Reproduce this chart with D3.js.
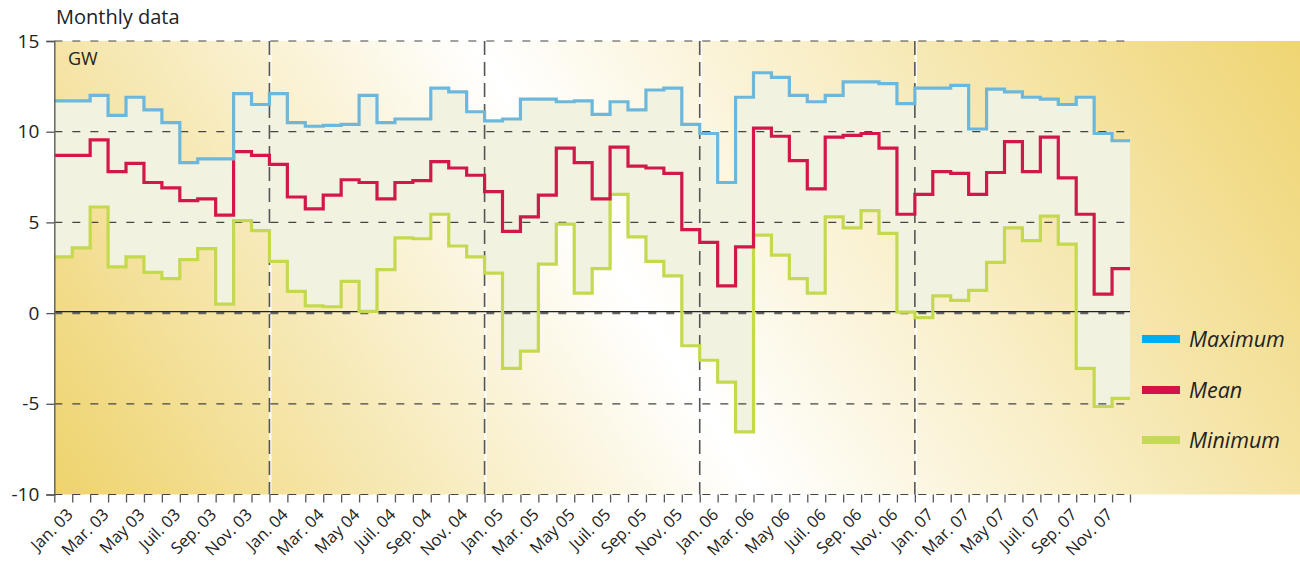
<!DOCTYPE html>
<html><head><meta charset="utf-8">
<script src="https://cdn.jsdelivr.net/npm/d3@7"></script>
<style>
body{margin:0;background:#fff;}
text{font-family:"Open Sans","Noto Sans",sans-serif;fill:#222;}
</style></head>
<body>
<svg id="chart" width="1300" height="565"></svg>
<script>
// ---- data (GW, monthly, Jan 2003 .. Dec 2007) ----
const years = ["03","04","05","06","07"];
const labelMonths = ["Jan.","Mar.","May","Juil.","Sep.","Nov."];
const yTicks = [-10,-5,0,5,10,15];
const seriesNames = ["Maximum","Mean","Minimum"];

const maxValues = [11.7,11.7,12.0,10.9,11.9,11.2,10.5,8.3,8.5,8.5,12.1,11.5,
  12.1,10.5,10.3,10.35,10.4,12.0,10.5,10.7,10.7,12.4,12.2,11.1,
  10.6,10.7,11.8,11.8,11.65,11.7,10.95,11.65,11.2,12.3,12.4,10.4,
  9.9,7.2,11.9,13.25,13.0,12.0,11.65,12.0,12.75,12.75,12.65,11.55,
  12.4,12.4,12.55,10.15,12.35,12.2,11.9,11.8,11.5,11.9,9.9,9.5];
const meanValues = [8.7,8.7,9.55,7.8,8.25,7.2,6.9,6.2,6.3,5.4,8.9,8.7,
  8.2,6.4,5.75,6.5,7.35,7.2,6.3,7.2,7.3,8.35,8.0,7.6,
  6.7,4.5,5.3,6.5,9.1,8.3,6.3,9.15,8.1,8.0,7.7,4.6,
  3.9,1.5,3.65,10.2,9.75,8.4,6.85,9.7,9.8,9.9,9.1,5.45,
  6.55,7.8,7.7,6.55,7.75,9.45,7.8,9.7,7.45,5.45,1.05,2.45];
const minValues = [3.1,3.6,5.85,2.55,3.1,2.25,1.9,2.95,3.55,0.5,5.1,4.55,
  2.85,1.2,0.4,0.35,1.75,0.1,2.4,4.15,4.1,5.45,3.7,3.1,
  2.2,-3.05,-2.1,2.7,4.9,1.1,2.45,6.55,4.2,2.85,2.05,-1.8,
  -2.6,-3.8,-6.55,4.3,3.2,1.9,1.1,5.3,4.7,5.65,4.4,0.05,
  -0.25,0.95,0.7,1.25,2.8,4.7,4.0,5.35,3.8,-3.05,-5.15,-4.7];

const colors = {Maximum:"#6cb8dc", Mean:"#d2174a", Minimum:"#c5d94f"};
const legendColors = {Maximum:"#00aeef", Mean:"#d31347", Minimum:"#c4d957"};

const tickLabels = [];
years.forEach(yy => labelMonths.forEach(m => tickLabels.push(m + " " + yy)));

// ---- layout ----
const svg = d3.select("#chart");
const pLeft = 54.3, pRight = 1130, pTop = 41, pBottom = 494.5;
const nM = maxValues.length;
const x = d3.scaleLinear().domain([0, nM]).range([pLeft, pRight]);
const y = d3.scaleLinear().domain([-10, 15]).range([pBottom, pTop]);

// background gradient
const defs = svg.append("defs");
const grad = defs.append("linearGradient").attr("id","bg")
  .attr("gradientUnits","userSpaceOnUse")
  .attr("x1", 120).attr("y1", 620).attr("x2", 1240).attr("y2", -80);
grad.append("stop").attr("offset","0").attr("stop-color","#eed26a");
grad.append("stop").attr("offset","0.46").attr("stop-color","#ffffff");
grad.append("stop").attr("offset","1").attr("stop-color","#efd470");
svg.append("rect").attr("x", pLeft).attr("y", pTop).attr("width", 1300 - pLeft).attr("height", pBottom - pTop)
  .attr("fill","url(#bg)");

// white lines under year dividers
const yearMarks = [12,24,36,48];
svg.append("g").selectAll("line").data(yearMarks).join("line")
  .attr("x1", d => x(d) + 1).attr("x2", d => x(d) + 1)
  .attr("y1", pTop).attr("y2", pBottom)
  .attr("stroke","#ffffff").attr("stroke-width",2);

// fill between min and max
const idx = d3.range(nM + 1);
const val = (arr, i) => arr[Math.min(i, nM - 1)];
const area = d3.area().curve(d3.curveStepAfter)
  .x(i => x(i)).y0(i => y(val(minValues, i))).y1(i => y(val(maxValues, i)));
svg.append("path").datum(idx).attr("d", area).attr("fill","#f2f2e0");

// horizontal gridlines
svg.append("g").selectAll("line").data(yTicks).join("line")
  .attr("x1", pLeft).attr("x2", pRight)
  .attr("y1", d => y(d)).attr("y2", d => y(d))
  .attr("stroke", d => d === 0 ? "#666" : "#444")
  .attr("stroke-width", d => d === 0 ? 2.2 : 1.2)
  .attr("stroke-dasharray","8,10");
svg.append("line").attr("x1", pLeft).attr("x2", pRight)
  .attr("y1", y(0) - 1.5).attr("y2", y(0) - 1.5)
  .attr("stroke","#222").attr("stroke-width",1.2);

// vertical year dividers
svg.append("g").selectAll("line").data(yearMarks).join("line")
  .attr("x1", d => x(d)).attr("x2", d => x(d))
  .attr("y1", pTop).attr("y2", pBottom)
  .attr("stroke","#555").attr("stroke-width",1.6)
  .attr("stroke-dasharray","14,7");

// series lines
const series = [["Maximum", maxValues],["Mean", meanValues],["Minimum", minValues]];
series.slice().reverse().forEach(([name, arr]) => {
  const line = d3.line().curve(d3.curveStepAfter).x(i => x(i)).y(i => y(val(arr, i)));
  svg.append("path").datum(idx).attr("d", line)
    .attr("fill","none").attr("stroke", colors[name]).attr("stroke-width",3.2);
});

// axes
const yAxis = svg.append("g").attr("transform", `translate(${pLeft},0)`)
  .call(d3.axisLeft(y).tickValues(yTicks).tickSize(8).tickPadding(7).tickFormat(d => String(d)));
yAxis.select(".domain").attr("stroke","#666").attr("stroke-width",1.5);
yAxis.selectAll(".tick line").attr("stroke","#555").attr("stroke-width",1.3);
yAxis.selectAll("text").style("font-size","19px").attr("fill","#222");

const xAxis = svg.append("g").attr("transform", `translate(0,${pBottom})`)
  .call(d3.axisBottom(x).tickValues(d3.range(0, nM + 1)).tickSize(8)
    .tickFormat(i => (i % 2 === 0 && i < nM) ? tickLabels[i / 2] : ""));
xAxis.select(".domain").remove();
xAxis.selectAll(".tick line").attr("stroke","#555").attr("stroke-width",1.3);
xAxis.selectAll("text").style("font-size","16.5px").attr("fill","#222")
  .attr("text-anchor","end").attr("x",0).attr("y",0).attr("dy","0.35em")
  .attr("transform","translate(15,17) rotate(-45)");

// titles
svg.append("text").attr("x",56).attr("y",24).style("font-size","20px").text("Monthly data");
svg.append("text").attr("x",68).attr("y",65).style("font-size","18px").text("GW");

// legend
const legY = [339, 390, 440];
const leg = svg.append("g").selectAll("g").data(seriesNames).join("g")
  .attr("transform", (d, i) => `translate(1142,${legY[i]})`);
leg.append("rect").attr("x",0).attr("y",-4).attr("width",38).attr("height",8)
  .attr("fill", d => legendColors[d]);
leg.append("text").attr("x",47).attr("y",8).style("font-size","21.5px").style("font-style","italic")
  .text(d => d);
</script>
</body></html>
